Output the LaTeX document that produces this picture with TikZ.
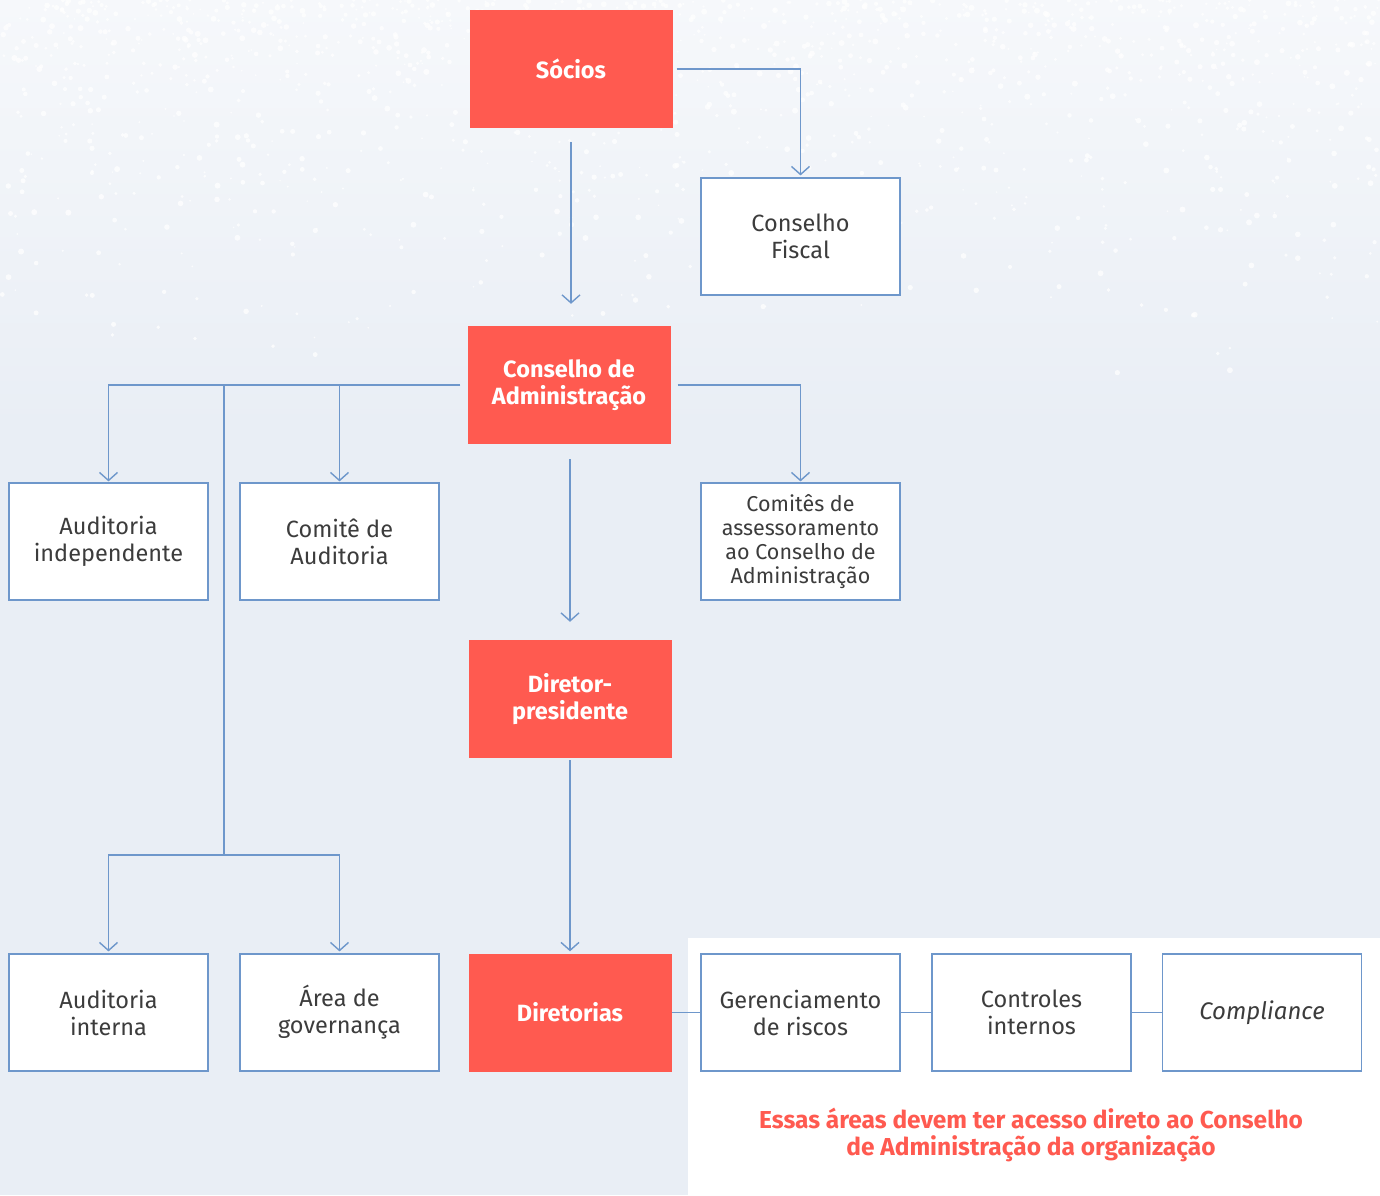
\documentclass[tikz,border=0pt]{standalone}
\usepackage{fontspec}
\setmainfont{Fira Sans}
\usetikzlibrary{arrows.meta}
\definecolor{redbox}{HTML}{FF5A50}
\definecolor{link}{HTML}{6E97CB}
\definecolor{ink}{HTML}{3C3C3C}
\definecolor{paper}{HTML}{E9EEF5}
\definecolor{mist}{HTML}{F6F8FB}

\begin{document}
\begin{tikzpicture}[x=1pt,y=-1pt,
  base/.style={minimum width=203pt, minimum height=118pt, inner sep=0pt, align=center},
  lead/.style={base, fill=redbox, text=white, font=\fontseries{sb}\selectfont\fontsize{23.5}{27}\selectfont},
  unit/.style={base, fill=white, draw=link, line width=1.2pt, text=ink,
               minimum width=199pt, minimum height=117pt, font=\fontsize{23.5}{27}\selectfont},
  wire/.style={draw=link, line width=1.4pt},
  feed/.style={wire, -{Straight Barb[length=8pt,width=18pt]}}
]
\useasboundingbox (0,0) rectangle (1380,1195);

% backdrop with a speckled, paler upper band
\shade[top color=mist, bottom color=paper] (0,0) rectangle (1380,430);
\fill[paper] (0,429) rectangle (1380,1195);
\pgfmathsetseed{4242}
\foreach \i in {1,...,1400}{
  \pgfmathsetmacro{\px}{1380*rnd}
  \pgfmathsetmacro{\py}{380*rnd*rnd}
  \pgfmathsetmacro{\pr}{0.8+2.2*rnd}
  \fill[white, opacity=0.75] (\px,\py) circle[radius=\pr pt];
}
\fill[white] (688,938) rectangle (1380,1195);

% main column
\node[lead] (socios) at (571,69) {Sócios};
\node[lead] (admin)  at (569,385) {Conselho de\\Administração};
\node[lead] (ceo)    at (570,699) {Diretor-\\presidente};
\node[lead] (dirs)   at (570,1012.5) {Diretorias};

% oversight bodies
\node[unit] (fiscal) at (800.5,236.5) {Conselho\\Fiscal};
\node[unit] (audind) at (108.5,541.5) {Auditoria\\independente};
\node[unit] (comite) at (339.5,541.5) {Comitê de\\Auditoria};
\node[unit, font=\fontsize{21.5}{24}\selectfont] (assess) at (800.5,541.5)
  {Comitês de\\assessoramento\\ao Conselho de\\Administração};
\node[unit] (audint) at (108.5,1012.5) {Auditoria\\interna};
\node[unit] (govern) at (339.5,1012.5) {Área de\\governança};

% control functions
\node[unit] (risk)   at (800.5,1012.5) {Gerenciamento\\de riscos};
\node[unit] (ctrl)   at (1031.5,1012.5) {Controles\\internos};
\node[unit, font=\itshape\fontsize{24}{27}\selectfont] (comp) at (1262,1012.5) {Compliance};

\node[text=redbox, align=center, font=\fontseries{sb}\selectfont\fontsize{24.5}{27}\selectfont] (note)
  at (1031,1135) {Essas áreas devem ter acesso direto ao Conselho\\de Administração da organização};

% connectors
\draw[feed] ([xshift=4pt]socios.east) -| ([yshift=2pt]fiscal.north);
\draw[feed, shorten <=14pt, shorten >=22pt] (socios.south) -- (socios.south |- admin.north);
\draw[feed] ([xshift=-7pt]admin.west) -| ([yshift=1pt]audind.north);
\draw[feed] (comite.north |- admin.west) -- ([yshift=1pt]comite.north);
\draw[feed] ([xshift=7pt]admin.east) -| ([yshift=1pt]assess.north);
\draw[feed, shorten <=15pt, shorten >=18pt] (ceo.north |- admin.south) -- (ceo.north);
\draw[feed, shorten <=2pt, shorten >=2pt] (ceo.south) -- (dirs.north);

\coordinate (trunk) at (224,385);
\coordinate (fork)  at (224,855);
\draw[wire] (trunk) -- (fork);
\draw[feed] (fork) -| ([yshift=2pt]audint.north);
\draw[feed] (fork) -| ([yshift=2pt]govern.north);

\draw[wire] (dirs) -- (risk);
\draw[wire] (risk) -- (ctrl);
\draw[wire] (ctrl) -- (comp);
\end{tikzpicture}
\end{document}
